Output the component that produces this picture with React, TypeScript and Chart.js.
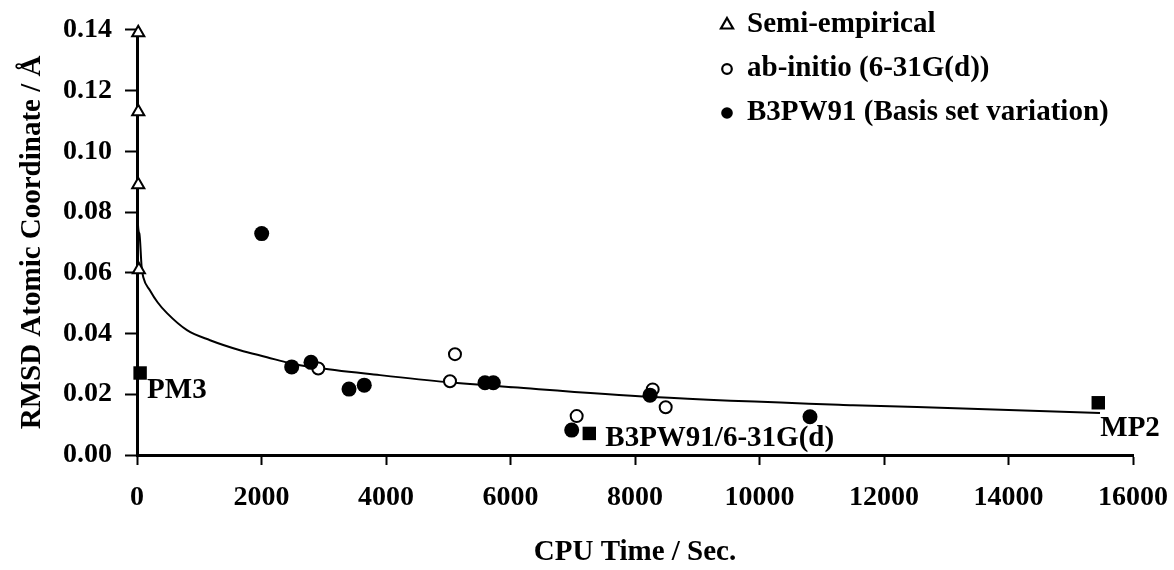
import React, { useEffect, useRef } from "react";
import { Chart, registerables } from "chart.js";

Chart.register(...registerables);

// ---- data (CPU time in seconds, RMSD in Å) ----
const semiX = [20, 20, 20, 30];
const semiY = [0.139, 0.113, 0.089, 0.061];

const abInitioX = [2912, 5108, 5028, 7063, 8284, 8493];
const abInitioY = [0.0285, 0.0332, 0.0243, 0.0128, 0.0216, 0.0157];

const b3pw91X = [2003, 2485, 2795, 3406, 3651, 5590, 5724, 6983, 8241, 10811];
const b3pw91Y = [0.0729, 0.029, 0.0305, 0.0217, 0.023, 0.0238, 0.0238, 0.0082, 0.0197, 0.0126];

const labeledX = [50, 7266, 15442];
const labeledY = [0.027, 0.0071, 0.0172];
const labeledNames = ["PM3", "B3PW91/6-31G(d)", "MP2"];

const fitX = [0, 5, 37, 75, 101, 209, 330, 482, 803, 1173, 1655, 2088, 2458, 2827, 3904, 4980, 6040, 8289, 11502, 12530, 15470];
const fitY = [0.139, 0.0815, 0.073, 0.0618, 0.0585, 0.0542, 0.0503, 0.0467, 0.0411, 0.0378, 0.0345, 0.0322, 0.0302, 0.0289, 0.0263, 0.024, 0.0223, 0.0191, 0.0164, 0.0158, 0.0138];

const legendLabels = ["Semi-empirical", "ab-initio (6-31G(d))", "B3PW91 (Basis set variation)"];

const xTitle = "CPU Time / Sec.";
const yTitle = "RMSD Atomic Coordinate / Å";
const xMin = 0;
const xMax = 16000;
const xStep = 2000;
const yMin = 0;
const yMax = 0.14;
const yStep = 0.02;

const FONT = "'Liberation Serif', 'Times New Roman', serif";

const pts = (xs: number[], ys: number[]) => xs.map((x, i) => ({ x, y: ys[i] }));

const legendPlugin = {
  id: "customLegend",
  afterDraw(chart: any) {
    const ctx = chart.ctx;
    const markerX = 727;
    const textX = 747;
    const rows = [25, 69, 113];
    ctx.save();
    ctx.fillStyle = "#000";
    ctx.strokeStyle = "#000";
    ctx.font = `bold 29px ${FONT}`;
    ctx.textBaseline = "middle";
    ctx.textAlign = "left";
    legendLabels.forEach((label, i) => {
      const y = rows[i];
      ctx.lineWidth = 2.2;
      ctx.beginPath();
      if (i === 0) {
        const r = 7;
        ctx.moveTo(markerX, y - r);
        ctx.lineTo(markerX + r * 0.866, y + r * 0.5);
        ctx.lineTo(markerX - r * 0.866, y + r * 0.5);
        ctx.closePath();
        ctx.stroke();
      } else if (i === 1) {
        ctx.arc(markerX, y, 4.8, 0, Math.PI * 2);
        ctx.stroke();
      } else {
        ctx.arc(markerX, y, 5.8, 0, Math.PI * 2);
        ctx.fill();
      }
      ctx.fillText(label, textX, y);
    });
    ctx.restore();
  },
};

const labelOffsets = [
  [7, 18],
  [16, 5],
  [2, 26],
];

const annotationPlugin = {
  id: "pointLabels",
  afterDatasetsDraw(chart: any) {
    const ctx = chart.ctx;
    const xs = chart.scales.x;
    const ys = chart.scales.y;
    ctx.save();
    ctx.fillStyle = "#000";
    ctx.font = `bold 29px ${FONT}`;
    ctx.textBaseline = "middle";
    ctx.textAlign = "left";
    labeledNames.forEach((name, i) => {
      const px = xs.getPixelForValue(labeledX[i]);
      const py = ys.getPixelForValue(labeledY[i]);
      ctx.fillText(name, px + labelOffsets[i][0], py + labelOffsets[i][1]);
    });
    ctx.restore();
  },
};

export default function App() {
  const canvasRef = useRef<HTMLCanvasElement | null>(null);

  useEffect(() => {
    if (!canvasRef.current) return;
    const chart = new Chart(canvasRef.current, {
      type: "scatter",
      data: {
        datasets: [
          {
            label: "Labeled",
            data: pts(labeledX, labeledY),
            pointStyle: "rect",
            pointRadius: 9.5,
            backgroundColor: "#000",
            borderColor: "#000",
            borderWidth: 0,
            clip: false,
          } as any,
          {
            label: legendLabels[2],
            data: pts(b3pw91X, b3pw91Y),
            pointStyle: "circle",
            pointRadius: 7.5,
            backgroundColor: "#000",
            borderColor: "#000",
            borderWidth: 0,
            clip: false,
          },
          {
            label: legendLabels[1],
            data: pts(abInitioX, abInitioY),
            pointStyle: "circle",
            pointRadius: 6,
            backgroundColor: "#fff",
            borderColor: "#000",
            borderWidth: 2,
            clip: false,
          },
          {
            label: legendLabels[0],
            data: pts(semiX, semiY),
            pointStyle: "triangle",
            pointRadius: 7,
            backgroundColor: "#fff",
            borderColor: "#000",
            borderWidth: 2,
            clip: false,
          },
          {
            label: "Fit",
            type: "line",
            data: pts(fitX, fitY),
            showLine: true,
            pointRadius: 0,
            borderColor: "#000",
            borderWidth: 2,
            cubicInterpolationMode: "monotone",
            fill: false,
            clip: false,
          } as any,
        ],
      },
      options: {
        animation: false,
        responsive: false,
        maintainAspectRatio: false,
        layout: { padding: { top: 29, right: 41, left: 0, bottom: 0 } },
        plugins: {
          legend: { display: false },
          tooltip: { enabled: false },
        },
        scales: {
          x: {
            type: "linear",
            min: xMin,
            max: xMax,
            afterFit: (scale: any) => {
              scale.height = 115;
              scale.paddingRight = 0;
              scale.paddingLeft = 0;
            },
            afterBuildTicks: (scale: any) => {
              const t = [];
              for (let v = xMin; v <= xMax; v += xStep) t.push({ value: v });
              scale.ticks = t;
            },
            ticks: {
              color: "#000",
              font: { family: FONT, size: 28, weight: "bold" },
              padding: 16,
              maxRotation: 0,
              callback: (v: any) => String(v),
            },
            grid: {
              drawOnChartArea: false,
              drawTicks: true,
              tickLength: 10,
              tickWidth: 2,
              color: "#000",
            },
            border: { display: true, color: "#000", width: 3 },
            title: {
              display: true,
              text: xTitle,
              color: "#000",
              font: { family: FONT, size: 29, weight: "bold" },
              padding: { top: 0, bottom: 0 },
            },
          },
          y: {
            type: "linear",
            min: yMin,
            max: yMax,
            afterFit: (scale: any) => {
              scale.width = 137;
            },
            afterBuildTicks: (scale: any) => {
              const t = [];
              for (let i = 0; i <= Math.round((yMax - yMin) / yStep); i++) t.push({ value: yMin + i * yStep });
              scale.ticks = t;
            },
            ticks: {
              color: "#000",
              font: { family: FONT, size: 28, weight: "bold" },
              padding: 13,
              callback: (v: any) => Number(v).toFixed(2),
            },
            grid: {
              drawOnChartArea: false,
              drawTicks: true,
              tickLength: 12,
              tickWidth: 2,
              color: "#000",
            },
            border: { display: true, color: "#000", width: 3 },
            title: {
              display: true,
              text: yTitle,
              color: "#000",
              font: { family: FONT, size: 29, weight: "bold" },
              padding: { top: 15, bottom: 0 },
            },
          },
        },
      },
      plugins: [annotationPlugin, legendPlugin],
    });
    return () => chart.destroy();
  }, []);

  return (
    <div style={{ position: "fixed", left: 0, top: 0, width: 1174, height: 570, background: "#fff" }}>
      <canvas ref={canvasRef} width={1174} height={570} style={{ display: "block" }} />
    </div>
  );
}
